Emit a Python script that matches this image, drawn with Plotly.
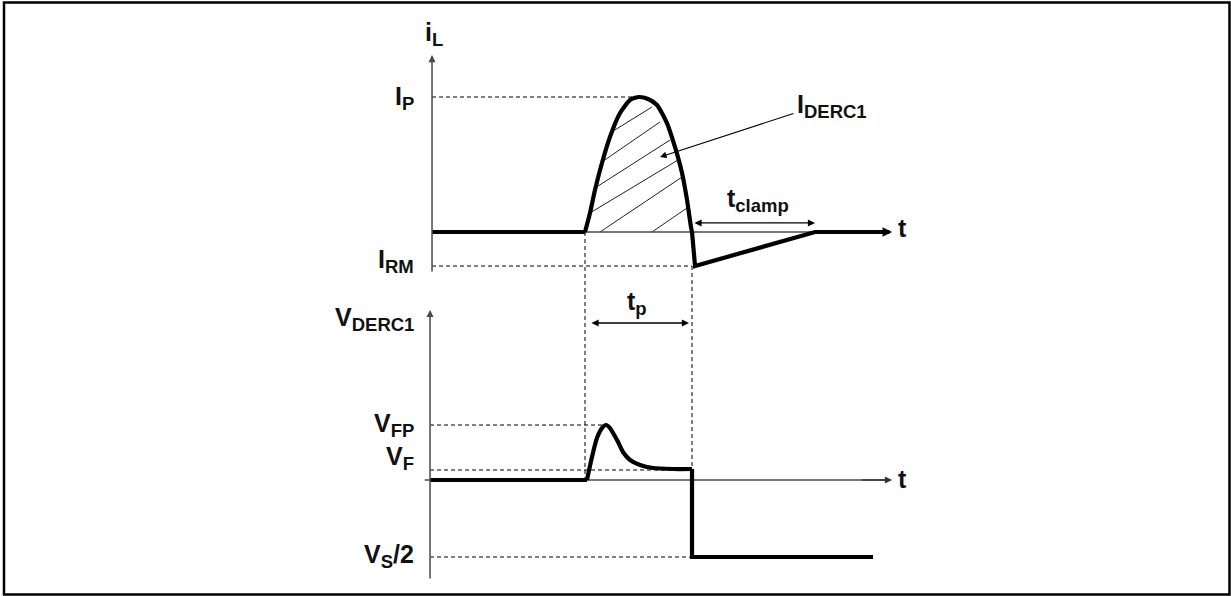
import plotly.graph_objects as go

# ---------------- data (t: time, pulse start = 0 ; iL normalised to IP ; V normalised to VS/2) -------------
iL_t = [-1.471, 0.0, 0.048, 0.096, 0.163, 0.240, 0.337, 0.433, 0.519, 0.606, 0.692,
        0.788, 0.865, 0.933, 0.981, 1.019, 1.029, 1.058, 2.212, 2.837]
iL_v = [0.0, 0.0, 0.141, 0.311, 0.511, 0.704, 0.881, 0.978, 1.0, 0.985, 0.941,
        0.807, 0.630, 0.437, 0.237, 0.037, 0.0, -0.252, 0.0, 0.0]

V_t = [-1.490, 0.019, 0.067, 0.115, 0.163, 0.202, 0.240, 0.308, 0.365, 0.433,
       0.529, 0.654, 0.846, 1.029, 1.029, 2.769]
V_v = [0.0, 0.0, 0.299, 0.545, 0.675, 0.714, 0.675, 0.519, 0.364, 0.260,
       0.195, 0.156, 0.143, 0.143, -1.0, -1.0]

# hatching of the I_DERC1 area (segments: start t, start i, end t, end i)
hatch_t0 = [0.240, 0.163, 0.096, 0.048, 0.144, 0.644]
hatch_i0 = [0.733, 0.519, 0.326, 0.141, 0.0, 0.0]
hatch_t1 = [0.644, 0.721, 0.817, 0.894, 0.933, 0.981]
hatch_i1 = [0.926, 0.815, 0.681, 0.533, 0.407, 0.178]

# characteristic levels / times
I_P = 1.0
I_RM = -0.252
V_FP = 0.714
V_F = 0.13
V_S2 = -1.0
T_PEAK_I = 0.519
T_PEAK_V = 0.202
T_OFF = 1.029
T_RM = 1.058
T_CLAMP_END = 2.212

# axes extents (schematic axes)
T_AX_I = -1.471
T_AX_V = -1.490
T_AX_END = 2.952
I_AX = [-0.304, 1.311]
V_AX = [-1.299, 2.208]

# ---------------- plot ranges ----------------
X_RANGE = [-5.625, 6.2115]
I_RANGE = [-2.6963, 1.7185]
V_RANGE = [-1.5065, 6.2338]


def i_paper(i):
    return (i - I_RANGE[0]) / (I_RANGE[1] - I_RANGE[0])


def v_paper(v):
    return (v - V_RANGE[0]) / (V_RANGE[1] - V_RANGE[0])


FONT = "Liberation Sans, Arial, Helvetica, sans-serif"
AX_COL = "#4a4a4a"
WAVE_W = 4.2

fig = go.Figure()

# hatching
for a, b, c, d in zip(hatch_t0, hatch_i0, hatch_t1, hatch_i1):
    fig.add_trace(go.Scatter(x=[a, c], y=[b, d], mode="lines",
                             line=dict(color="#222", width=1), hoverinfo="skip",
                             showlegend=False, yaxis="y"))

# thin axis lines (horizontal)
fig.add_trace(go.Scatter(x=[T_AX_I, T_AX_END - 0.05], y=[0, 0], mode="lines",
                         line=dict(color=AX_COL, width=1.5), showlegend=False, yaxis="y"))
fig.add_trace(go.Scatter(x=[T_AX_V - 0.05, T_AX_END - 0.05], y=[0, 0], mode="lines",
                         line=dict(color=AX_COL, width=1.5), showlegend=False, yaxis="y2"))


def wave(ts, vs, yaxis, curved):
    fig.add_trace(go.Scatter(
        x=ts, y=vs, mode="lines", yaxis=yaxis, showlegend=False,
        line=dict(color="black", width=WAVE_W,
                  shape="spline" if curved else "linear",
                  smoothing=0.6 if curved else None)))


# iL waveform: straight lead-in, curved pulse, straight recovery
wave(iL_t[0:2], iL_v[0:2], "y", False)
wave(iL_t[1:17], iL_v[1:17], "y", True)
wave(iL_t[16:], iL_v[16:], "y", False)
# V waveform
wave(V_t[0:2], V_v[0:2], "y2", False)
wave(V_t[1:14], V_v[1:14], "y2", True)
wave(V_t[13:], V_v[13:], "y2", False)

shapes = []
dash = "4px,3px"


def hdash(x0, x1, y, yref):
    shapes.append(dict(type="line", xref="x", yref=yref, x0=x0, x1=x1, y0=y, y1=y,
                       line=dict(color="black", width=1, dash=dash)))


hdash(T_AX_I, T_PEAK_I, I_P, "y")
hdash(T_AX_I, T_RM - 0.03, I_RM, "y")
hdash(T_AX_V, T_PEAK_V, V_FP, "y2")
hdash(T_AX_V, T_OFF, V_F, "y2")
hdash(T_AX_V, T_OFF, V_S2, "y2")

# vertical dashed lines crossing both graphs
shapes.append(dict(type="line", xref="x", yref="paper", x0=0.0, x1=0.0,
                   y0=i_paper(0.0), y1=v_paper(0.0),
                   line=dict(color="black", width=1, dash=dash)))
shapes.append(dict(type="line", xref="x", yref="paper", x0=T_OFF, x1=T_OFF,
                   y0=i_paper(I_RM), y1=v_paper(V_F),
                   line=dict(color="black", width=1, dash=dash)))

# frame
shapes.append(dict(type="rect", xref="paper", yref="paper",
                   x0=4 / 1231, x1=1229.5 / 1231, y0=1 - 594.5 / 596, y1=1 - 2.5 / 596,
                   line=dict(color="black", width=2.5)))

annotations = []


def arrow(x, y, ax, ay, yref, width=1.3, size=1.1, both=False, color="black"):
    annotations.append(dict(x=x, y=y, ax=ax, ay=ay, xref="x", yref=yref,
                            axref="x", ayref=yref, text="", showarrow=True,
                            arrowhead=2, arrowsize=size, arrowwidth=width,
                            arrowcolor=color,
                            arrowside="end+start" if both else "end",
                            startarrowhead=2, startarrowsize=size))


# axis arrows
arrow(T_AX_I, I_AX[1], T_AX_I, I_AX[0], "y", width=1.5, size=0.95, color=AX_COL)
arrow(T_AX_V, V_AX[1], T_AX_V, V_AX[0], "y2", width=1.5, size=0.95, color=AX_COL)
arrow(T_AX_END, 0, T_CLAMP_END, 0, "y", width=WAVE_W, size=0.45)
arrow(T_AX_END, 0, T_AX_END - 0.3, 0, "y2", width=1.5, size=0.95, color="#333")
# tp, tclamp, I_DERC1 pointer
arrow(1.0, 2.039, 0.048, 2.039, "y2", both=True)
arrow(T_CLAMP_END, 0.067, 1.038, 0.067, "y", both=True)
arrow(0.721, 0.556, 2.019, 0.881, "y", width=1.1, size=1.2)

SUB = '<sub><span style="font-size:18.5px">{}</span></sub>'


def label(main, sub, x, y, yref, xanchor="right", tail=""):
    text = "<b>" + main + (SUB.format(sub) if sub else "") + tail + "</b>"
    annotations.append(dict(x=x, y=y, xref="x", yref=yref, text=text,
                            showarrow=False, xanchor=xanchor, yanchor="middle",
                            font=dict(family=FONT, size=25, color="#111")))


label("i", "L", -1.452, 1.470, "y", xanchor="center")
label("I", "P", -1.625, 0.995, "y")
label("I", "RM", -1.625, -0.215, "y")
label("t", None, 2.99, 0.03, "y", xanchor="left")
label("t", "clamp", 1.663, 0.235, "y", xanchor="center")
label("I", "DERC1", 2.019, 0.930, "y", xanchor="left")
label("V", "DERC1", -1.625, 2.090, "y2")
label("t", "p", 0.5, 2.300, "y2", xanchor="center")
label("V", "FP", -1.625, 0.720, "y2")
label("V", "F", -1.625, 0.290, "y2")
label("t", None, 2.99, 0.013, "y2", xanchor="left")
label("V", "S", -1.625, -0.985, "y2", tail="/2")

fig.update_layout(
    width=1231, height=596,
    margin=dict(l=0, r=0, t=0, b=0),
    paper_bgcolor="white", plot_bgcolor="white",
    xaxis=dict(range=X_RANGE, visible=False, fixedrange=True),
    yaxis=dict(range=I_RANGE, visible=False, fixedrange=True, domain=[0, 1]),
    yaxis2=dict(range=V_RANGE, visible=False, fixedrange=True, overlaying="y"),
    shapes=shapes,
    annotations=annotations,
    showlegend=False,
)

fig.write_html("out.html", config={"displayModeBar": False, "staticPlot": True},
               post_script="document.body.style.margin='0';document.body.style.overflow='hidden';")
